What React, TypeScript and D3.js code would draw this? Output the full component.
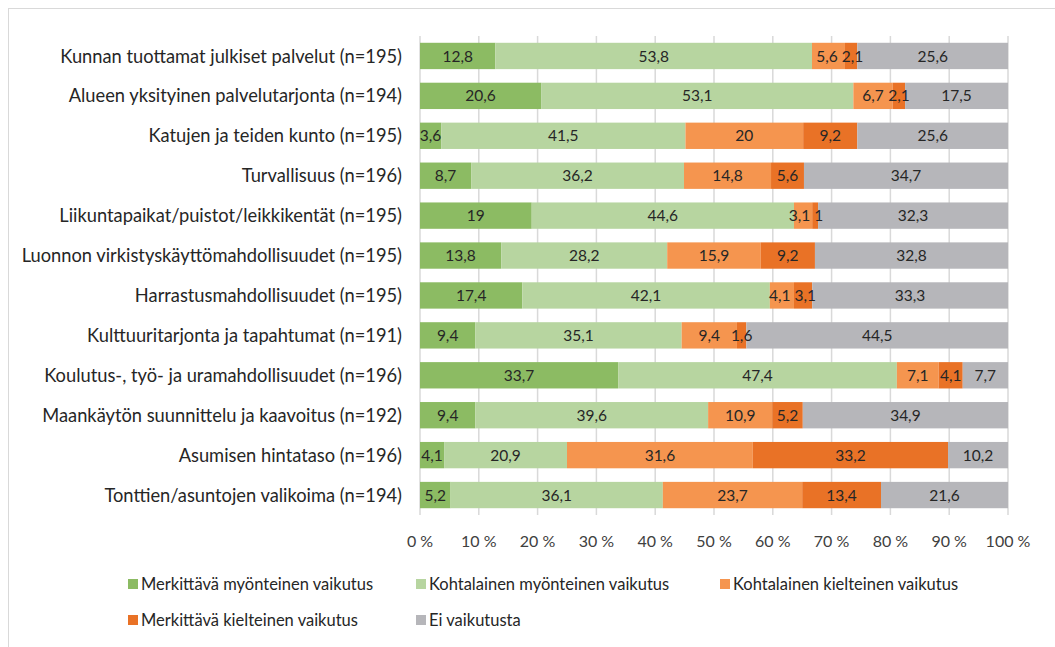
import React, { useRef, useEffect } from 'react';
import * as d3 from 'd3';

const categories = [
  'Kunnan tuottamat julkiset palvelut (n=195)',
  'Alueen yksityinen palvelutarjonta (n=194)',
  'Katujen ja teiden kunto (n=195)',
  'Turvallisuus (n=196)',
  'Liikuntapaikat/puistot/leikkikentät (n=195)',
  'Luonnon virkistyskäyttömahdollisuudet (n=195)',
  'Harrastusmahdollisuudet (n=195)',
  'Kulttuuritarjonta ja tapahtumat (n=191)',
  'Koulutus-, työ- ja uramahdollisuudet (n=196)',
  'Maankäytön suunnittelu ja kaavoitus (n=192)',
  'Asumisen hintataso (n=196)',
  'Tonttien/asuntojen valikoima (n=194)',
];

const seriesNames = [
  'Merkittävä myönteinen vaikutus',
  'Kohtalainen myönteinen vaikutus',
  'Kohtalainen kielteinen vaikutus',
  'Merkittävä kielteinen vaikutus',
  'Ei vaikutusta',
];

const merkittavaMyonteinen = [12.8, 20.6, 3.6, 8.7, 19, 13.8, 17.4, 9.4, 33.7, 9.4, 4.1, 5.2];
const kohtalainenMyonteinen = [53.8, 53.1, 41.5, 36.2, 44.6, 28.2, 42.1, 35.1, 47.4, 39.6, 20.9, 36.1];
const kohtalainenKielteinen = [5.6, 6.7, 20, 14.8, 3.1, 15.9, 4.1, 9.4, 7.1, 10.9, 31.6, 23.7];
const merkittavaKielteinen = [2.1, 2.1, 9.2, 5.6, 1, 9.2, 3.1, 1.6, 4.1, 5.2, 33.2, 13.4];
const eiVaikutusta = [25.6, 17.5, 25.6, 34.7, 32.3, 32.8, 33.3, 44.5, 7.7, 34.9, 10.2, 21.6];

const tickValues = [0, 10, 20, 30, 40, 50, 60, 70, 80, 90, 100];

const colors = ['#8cbb63', '#b7d5a0', '#f5954f', '#e97226', '#b6b6ba'];

const FONT = "Lato, 'Open Sans', sans-serif";

const App = () => {
  const ref = useRef<SVGSVGElement>(null);

  useEffect(() => {
    const svg = d3.select(ref.current);
    svg.selectAll('*').remove();

    const allSeries = [merkittavaMyonteinen, kohtalainenMyonteinen, kohtalainenKielteinen, merkittavaKielteinen, eiVaikutusta];
    const rows = categories.map((c, i) => {
      const vals = allSeries.map(s => s[i]);
      const total = d3.sum(vals);
      let acc = 0;
      return vals.map((v, k) => {
        const x0 = acc;
        acc += (v / total) * 100;
        return { cat: c, k, v, x0, x1: acc };
      });
    });

    const x = d3.scaleLinear().domain([0, 100]).range([420, 1008]);
    const y = d3.scaleBand().domain(categories).range([36, 515]).paddingInner(0.34).paddingOuter(0.17);

    // frame
    svg.append('rect')
      .attr('x', 8.5).attr('y', 8.5)
      .attr('width', 1200).attr('height', 800)
      .attr('fill', 'none').attr('stroke', '#d9d9d9');

    // gridlines
    svg.append('g')
      .selectAll('line')
      .data(tickValues)
      .enter()
      .append('line')
      .attr('x1', d => x(d)).attr('x2', d => x(d))
      .attr('y1', 36).attr('y2', 515)
      .attr('stroke', '#d9d9d9').attr('stroke-width', 1.5);

    // bars
    const segs = rows.flat();
    svg.append('g')
      .selectAll('rect')
      .data(segs)
      .enter()
      .append('rect')
      .attr('x', d => x(d.x0))
      .attr('y', d => y(d.cat)!)
      .attr('width', d => x(d.x1) - x(d.x0))
      .attr('height', y.bandwidth())
      .attr('fill', d => colors[d.k]);

    // data labels, nudged apart where neighbours collide
    const labelG = svg.append('g');
    rows.forEach(row => {
      const texts = row.map(d =>
        labelG.append('text')
          .attr('y', y(d.cat)! + y.bandwidth() / 2)
          .attr('dy', '0.36em')
          .attr('text-anchor', 'middle')
          .attr('font-family', FONT)
          .attr('font-size', 15.5)
          .attr('fill', '#262626')
          .text(String(d.v).replace('.', ','))
      );
      const cx = row.map(d => (x(d.x0) + x(d.x1)) / 2);
      const w = texts.map(t => (t.node() as SVGTextElement).getComputedTextLength());
      for (let iter = 0; iter < 5; iter++) {
        for (let i = 0; i < row.length - 1; i++) {
          const overlap = (cx[i] + w[i] / 2 + 4) - (cx[i + 1] - w[i + 1] / 2);
          if (overlap > 0) {
            cx[i] -= overlap / 2;
            cx[i + 1] += overlap / 2;
          }
        }
      }
      texts.forEach((t, i) => t.attr('x', cx[i]));
    });

    // category labels
    svg.append('g')
      .selectAll('text')
      .data(categories)
      .enter()
      .append('text')
      .attr('x', 402)
      .attr('y', d => y(d)! + y.bandwidth() / 2)
      .attr('dy', '0.36em')
      .attr('text-anchor', 'end')
      .attr('font-family', FONT)
      .attr('font-size', 18.3)
      .attr('fill', '#262626')
      .text(d => d);

    // x tick labels
    svg.append('g')
      .selectAll('text')
      .data(tickValues)
      .enter()
      .append('text')
      .attr('x', d => x(d))
      .attr('y', 541)
      .attr('dy', '0.36em')
      .attr('text-anchor', 'middle')
      .attr('font-family', FONT)
      .attr('font-size', 16)
      .attr('fill', '#404040')
      .text(d => `${d} %`);

    // legend
    const legendPos = [[128, 584], [416, 584], [720, 584], [128, 620], [416, 620]];
    const lg = svg.append('g')
      .selectAll('g')
      .data(seriesNames)
      .enter()
      .append('g')
      .attr('transform', (d, i) => `translate(${legendPos[i][0]},${legendPos[i][1]})`);
    lg.append('rect')
      .attr('x', 0).attr('y', -5)
      .attr('width', 10).attr('height', 10)
      .attr('fill', (d, i) => colors[i]);
    lg.append('text')
      .attr('x', 13)
      .attr('y', 0)
      .attr('dy', '0.36em')
      .attr('font-family', FONT)
      .attr('font-size', 16.5)
      .attr('fill', '#262626')
      .text(d => d);
  }, []);

  return (
    <div style={{ position: 'absolute', left: 0, top: 0, background: '#fff' }}>
      <svg ref={ref} width={1055} height={647} style={{ display: 'block' }} />
    </div>
  );
};

export default App;
